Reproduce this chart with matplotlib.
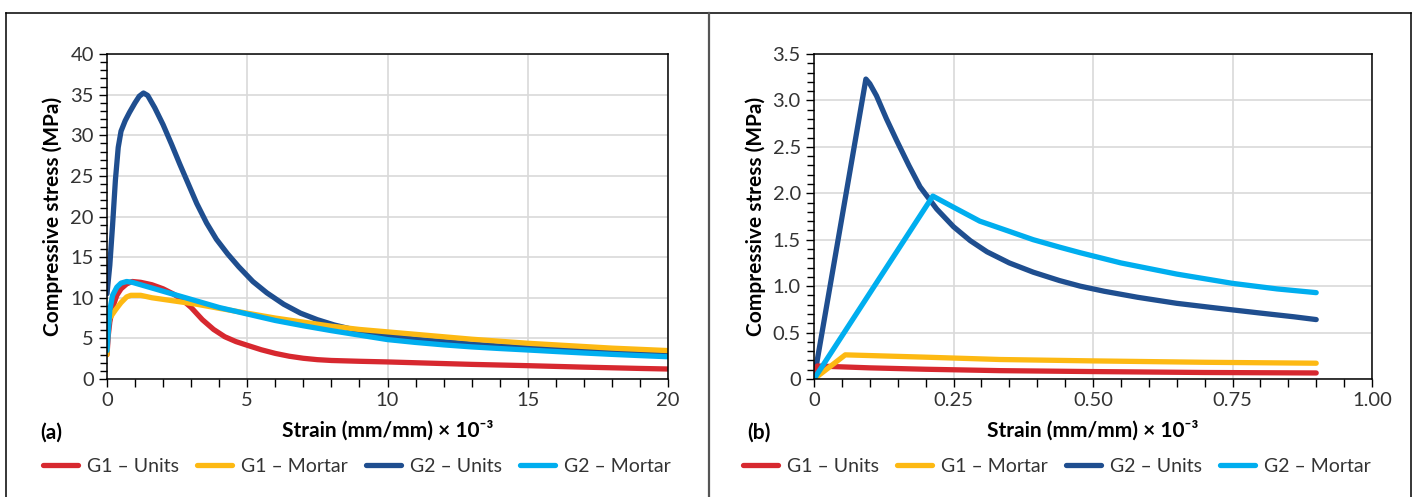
import matplotlib
matplotlib.use("Agg")
import matplotlib.pyplot as plt
from matplotlib.lines import Line2D
from matplotlib.ticker import MultipleLocator

plt.rcParams['font.family'] = ['Lato', 'DejaVu Sans']

# --- data (a): full curves ---
a_g1u_x = [0, 0.05, 0.1, 0.2, 0.35, 0.5, 0.7, 0.9, 1.2, 1.6, 2.0, 2.4, 2.7, 3.0, 3.4, 3.8, 4.2, 4.6, 5.0,
           5.5, 6.0, 6.5, 7.0, 7.5, 8, 9, 10, 11, 12, 13, 14, 15, 16, 17, 18, 19, 20]
a_g1u_y = [3.0, 5.5, 7.0, 8.8, 10.3, 11.1, 11.7, 12.0, 11.9, 11.6, 11.1, 10.4, 9.7, 8.8, 7.3, 6.1, 5.2, 4.6, 4.15,
           3.6, 3.15, 2.8, 2.55, 2.38, 2.28, 2.18, 2.1, 2.0, 1.9, 1.8, 1.72, 1.64, 1.55, 1.46, 1.38, 1.3, 1.23]

a_g1m_x = [0, 0.03, 0.1, 0.3, 0.5, 0.7, 0.85, 1.2, 1.6, 2.0, 2.6, 3.2, 4.0, 5.0, 6.0, 7.0, 8.0, 9.0, 10,
           11, 12, 13, 14, 15, 16, 17, 18, 19, 20]
a_g1m_y = [3.0, 6.5, 7.5, 8.5, 9.4, 10.1, 10.3, 10.3, 10.0, 9.8, 9.5, 9.2, 8.7, 8.1, 7.5, 7.0, 6.5, 6.1, 5.8,
           5.5, 5.2, 4.9, 4.65, 4.4, 4.2, 4.0, 3.8, 3.65, 3.5]

a_g2u_x = [0, 0.1, 0.2, 0.3, 0.4, 0.5, 0.65, 0.8, 1.0, 1.15, 1.3, 1.45, 1.7, 2.0, 2.3, 2.6, 2.9, 3.2, 3.55,
           3.9, 4.3, 4.7, 5.2, 5.7, 6.3, 6.9, 7.5, 8.1, 9, 10, 11, 12, 13, 14, 15, 16, 17, 18, 19, 20]
a_g2u_y = [10.5, 14, 19, 24.5, 28.5, 30.5, 31.8, 32.8, 34.0, 34.8, 35.2, 34.9, 33.4, 31.3, 28.9, 26.4, 24.0, 21.6, 19.2,
           17.2, 15.4, 13.8, 12.0, 10.6, 9.2, 8.1, 7.3, 6.65, 5.9, 5.3, 4.9, 4.6, 4.3, 4.05, 3.86, 3.65, 3.45, 3.25, 3.1, 2.95]

a_g2m_x = [0, 0.05, 0.1, 0.2, 0.35, 0.5, 0.7, 0.9, 1.2, 1.6, 2.0, 2.6, 3.2, 4.0, 5.0, 6.0, 7.0, 8.0, 9.0, 10,
           11, 12, 13, 14, 15, 16, 17, 18, 19, 20]
a_g2m_y = [3.5, 6.0, 8.5, 10.3, 11.3, 11.8, 12.0, 11.9, 11.6, 11.2, 10.8, 10.2, 9.6, 8.8, 8.0, 7.2, 6.55, 5.95, 5.4, 4.85,
           4.5, 4.2, 3.95, 3.75, 3.57, 3.38, 3.2, 3.03, 2.88, 2.74]

# --- data (b): initial part ---
b_g1u_x = [0, 0.006, 0.1, 0.2, 0.333, 0.5, 0.7, 0.9]
b_g1u_y = [0, 0.14, 0.12, 0.105, 0.09, 0.08, 0.07, 0.065]

b_g1m_x = [0, 0.056, 0.2, 0.333, 0.5, 0.7, 0.9]
b_g1m_y = [0, 0.26, 0.235, 0.21, 0.195, 0.18, 0.17]

b_g2u_x = [0, 0.093, 0.10, 0.112, 0.13, 0.148, 0.17, 0.19, 0.22, 0.25, 0.28, 0.31, 0.35, 0.393, 0.44, 0.477,
           0.52, 0.58, 0.65, 0.72, 0.80, 0.86, 0.90]
b_g2u_y = [0, 3.23, 3.18, 3.05, 2.8, 2.57, 2.3, 2.07, 1.83, 1.64, 1.49, 1.37, 1.25, 1.15, 1.06, 1.0,
           0.945, 0.88, 0.815, 0.765, 0.71, 0.67, 0.64]

b_g2m_x = [0, 0.213, 0.25, 0.297, 0.35, 0.393, 0.44, 0.477, 0.55, 0.65, 0.75, 0.83, 0.9]
b_g2m_y = [0, 1.97, 1.85, 1.70, 1.59, 1.50, 1.42, 1.36, 1.25, 1.13, 1.03, 0.97, 0.93]

labels = ['G1 – Units', 'G1 – Mortar', 'G2 – Units', 'G2 – Mortar']
colors = ['#D7282F', '#FDB913', '#1F4E8F', '#00AEEF']

fig = plt.figure(figsize=(14.14, 4.97), dpi=100)

def style_axes(ax):
    ax.grid(True, which='major', color='#D9D9D9', linewidth=1.2)
    ax.set_axisbelow(True)
    for s in ax.spines.values():
        s.set_linewidth(1.1)
        s.set_color('black')
    ax.tick_params(which='both', direction='out', length=6, width=1.0,
                   labelsize=14.5, labelcolor='#333333', color='black')
    ax.tick_params(axis='y', which='minor', length=5)
    ax.tick_params(axis='x', which='minor', length=6)
    ax.set_ylabel('Compressive stress (MPa)', fontsize=15, fontweight='bold', labelpad=5)
    ax.set_xlabel('Strain (mm/mm) × 10⁻³', fontsize=15, fontweight='bold', labelpad=8)

lw = 3.8
order = [2, 0, 1, 3]

# panel (a)
axa = fig.add_axes([107 / 1414, 1 - 379 / 497, 561 / 1414, 325 / 497])
data_a = [(a_g1u_x, a_g1u_y), (a_g1m_x, a_g1m_y), (a_g2u_x, a_g2u_y), (a_g2m_x, a_g2m_y)]
for i in order:
    axa.plot(data_a[i][0], data_a[i][1], color=colors[i], lw=lw, solid_joinstyle='round', solid_capstyle='round')
axa.set_xlim(0, 20)
axa.set_ylim(0, 40)
axa.xaxis.set_major_locator(MultipleLocator(5))
axa.xaxis.set_minor_locator(MultipleLocator(1))
axa.yaxis.set_major_locator(MultipleLocator(5))
axa.yaxis.set_minor_locator(MultipleLocator(1))
style_axes(axa)

# panel (b)
axb = fig.add_axes([814 / 1414, 1 - 379 / 497, 558 / 1414, 325 / 497])
data_b = [(b_g1u_x, b_g1u_y), (b_g1m_x, b_g1m_y), (b_g2u_x, b_g2u_y), (b_g2m_x, b_g2m_y)]
for i in order:
    axb.plot(data_b[i][0], data_b[i][1], color=colors[i], lw=lw, solid_joinstyle='round', solid_capstyle='round')
axb.set_xlim(0, 1.0)
axb.set_ylim(0, 3.5)
axb.set_xticks([0, 0.25, 0.5, 0.75, 1.0])
axb.set_xticklabels(['0', '0.25', '0.50', '0.75', '1.00'])
axb.xaxis.set_minor_locator(MultipleLocator(0.05))
axb.set_yticks([0, 0.5, 1.0, 1.5, 2.0, 2.5, 3.0, 3.5])
axb.set_yticklabels(['0', '0.5', '1.0', '1.5', '2.0', '2.5', '3.0', '3.5'])
axb.yaxis.set_minor_locator(MultipleLocator(0.1))
style_axes(axb)

# panel letters
fig.text(40 / 1414, 1 - 433 / 497, '(a)', fontsize=15, fontweight='bold', va='center')
fig.text(747 / 1414, 1 - 433 / 497, '(b)', fontsize=15, fontweight='bold', va='center')

# legends
handles = [Line2D([], [], color=c, lw=lw, solid_capstyle='round') for c in colors]
for cx in (357 / 1414, 1057 / 1414):
    fig.legend(handles, labels, loc='center', bbox_to_anchor=(cx, 1 - 466 / 497), ncol=4,
               frameon=False, fontsize=14, handlelength=1.8, handletextpad=0.45,
               columnspacing=0.95, labelcolor='#333333')

# outer frame and divider
fy_top = 1 - 13 / 497
fig.add_artist(Line2D([6 / 1414, 1411 / 1414], [fy_top, fy_top], color='black', lw=1.1, transform=fig.transFigure))
fig.add_artist(Line2D([6 / 1414, 6 / 1414], [0, fy_top], color='black', lw=1.1, transform=fig.transFigure))
fig.add_artist(Line2D([1411 / 1414, 1411 / 1414], [0, fy_top], color='black', lw=1.1, transform=fig.transFigure))
fig.add_artist(Line2D([709 / 1414, 709 / 1414], [0, fy_top], color='#555555', lw=1.6, transform=fig.transFigure))

fig.savefig('out.png', dpi=100)
